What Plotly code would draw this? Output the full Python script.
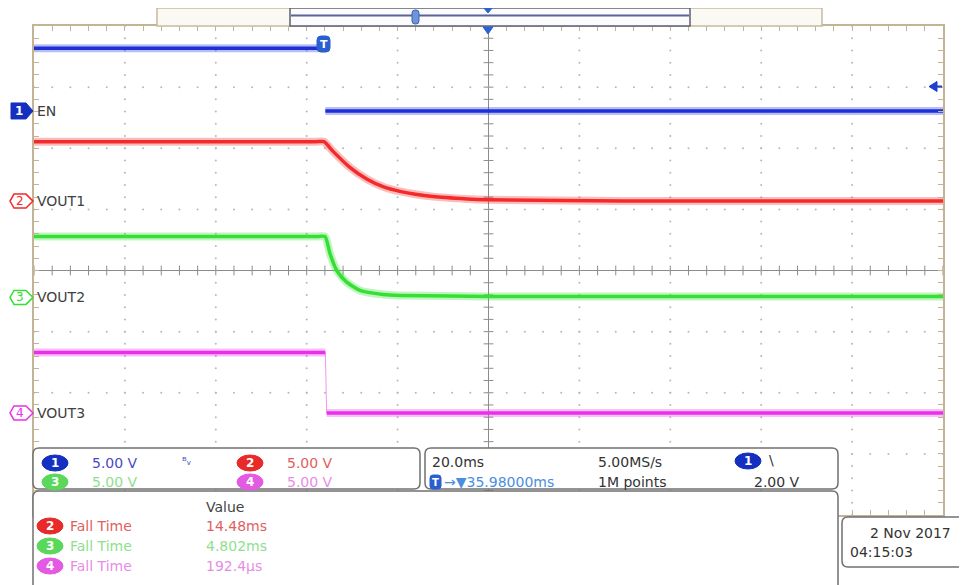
import plotly.graph_objects as go

# ---------------- data (time in ms relative to screen centre, volts) ----------------
en_time_ms = [-100.0, -36.0, -35.9, 100.0]
en_volts = [5.14, 5.14, 0.0, 0.0]

vout1_time_ms = [-100.0, -60.0, -38.0, -36.2, -34.2, -30.5, -26.8, -23.2, -19.5, -12.2, -4.7, -0.3, 30.0, 100.0]
vout1_volts = [4.86, 4.86, 4.86, 4.86, 4.07, 2.76, 1.81, 1.18, 0.80, 0.37, 0.18, 0.12, 0.02, 0.0]

vout2_time_ms = [-100.0, -60.0, -37.5, -35.97, -34.87, -33.4, -31.2, -28.3, -23.2, -19.5, 0.0, 100.0]
vout2_volts = [4.98, 4.98, 4.98, 4.98, 3.57, 2.20, 1.25, 0.57, 0.24, 0.16, 0.08, 0.08]

vout3_time_ms = [-100.0, -35.9, -35.6, 100.0]
vout3_volts = [4.94, 4.94, 0.0, 0.0]

channel_names = ["EN", "VOUT1", "VOUT2", "VOUT3"]
channel_numbers = ["1", "2", "3", "4"]
channel_scale_text = ["5.00 V", "5.00 V", "5.00 V", "5.00 V"]
volts_per_div = 5.0
channel_offset_div = [2.61, 1.135, -0.44, -2.33]

meas_names = ["Fall Time", "Fall Time", "Fall Time"]
meas_channels = ["2", "3", "4"]
meas_values = ["14.48ms", "4.802ms", "192.4µs"]

timebase_text = "20.0ms"
sample_rate_text = "5.00MS/s"
record_text = "1M points"
trigger_delay_text = "→▼35.98000ms"
trigger_level_text = "2.00 V"
trigger_level_volts = 2.0
date_text = "2 Nov 2017"
time_text = "04:15:03"

# ---------------- styling ----------------
COL = ["#1c2fd8", "#f42a2a", "#33e033", "#ea2fea"]
BADGE = ["#1530c0", "#e82a2a", "#5ad85a", "#e35ae3"]
TXT = ["#4a4ac4", "#e06060", "#8ee08e", "#e58ee5"]
FONT = "DejaVu Sans"

PAGE_OFF = 8  # default body margin of the html page
W, H = 967 - PAGE_OFF, 585 - PAGE_OFF
L, R, T, B = 34, 943, 26, 515  # plot frame in page pixels
PW, PH = R - L, B - T


def px(x):
    return (x - L) / PW


def py(y):
    return (B - y) / PH


fig = go.Figure()

# grid dots
gx, gy = [], []
for i in range(11):
    xv = -100 + 20 * i
    if xv in (-100, 0, 100):
        continue
    for j in range(41):
        gx.append(xv)
        gy.append(-4 + 0.2 * j)
for i in range(9):
    yv = -4 + i
    if yv in (-4, 0, 4):
        continue
    for j in range(51):
        gx.append(-100 + 4 * j)
        gy.append(yv)
fig.add_trace(go.Scatter(x=gx, y=gy, mode="markers", hoverinfo="skip",
                         marker=dict(size=2, color="#b8b8b8"), showlegend=False))

# centre cross ticks
cx = [-100 + 4 * j for j in range(51)]
fig.add_trace(go.Scatter(x=cx, y=[0] * len(cx), mode="markers", hoverinfo="skip", showlegend=False,
                         marker=dict(symbol="line-ns-open", size=7, color="#8c8c8c",
                                     line=dict(color="#8c8c8c", width=1))))
cy = [-4 + 0.2 * j for j in range(41)]
fig.add_trace(go.Scatter(x=[0] * len(cy), y=cy, mode="markers", hoverinfo="skip", showlegend=False,
                         marker=dict(symbol="line-ew-open", size=7, color="#8c8c8c",
                                     line=dict(color="#8c8c8c", width=1))))


def split_steps(t, v):
    """Break the thick line at near-vertical steps (the scope draws those thin)."""
    tt, vv = [t[0]], [v[0]]
    for i in range(1, len(t)):
        if abs(t[i] - t[i - 1]) < 0.5 and abs(v[i] - v[i - 1]) > 0.5:
            tt.append(None)
            vv.append(None)
        tt.append(t[i])
        vv.append(v[i])
    return tt, vv


series = [(en_time_ms, en_volts, "linear"), (vout1_time_ms, vout1_volts, "spline"),
          (vout2_time_ms, vout2_volts, "spline"), (vout3_time_ms, vout3_volts, "linear")]
for k, (t, v, shp) in enumerate(series):
    yfull = [channel_offset_div[k] + val / volts_per_div for val in v]
    if shp == "linear":
        if k == 3:
            fig.add_trace(go.Scatter(x=t, y=yfull, mode="lines", hoverinfo="skip", showlegend=False,
                                     line=dict(color=COL[k], width=1), opacity=0.5))
        ts, ys = split_steps(t, yfull)
    else:
        ts, ys = t, yfull
    fig.add_trace(go.Scatter(x=ts, y=ys, mode="lines", hoverinfo="skip", showlegend=False,
                             line=dict(color=COL[k], width=8, shape=shp, smoothing=0.6), opacity=0.3))
    fig.add_trace(go.Scatter(x=ts, y=ys, mode="lines", name=channel_names[k], showlegend=False,
                             line=dict(color=COL[k], width=3.5, shape=shp, smoothing=0.6)))

shapes = []
ann = []

# centre lines
shapes.append(dict(type="line", xref="x", yref="y", x0=0, x1=0, y0=-4, y1=4,
                   line=dict(color="#8c8c8c", width=1), layer="below"))
shapes.append(dict(type="line", xref="x", yref="y", x0=-100, x1=100, y0=0, y1=0,
                   line=dict(color="#8c8c8c", width=1), layer="below"))


def rrect(x0, y0, x1, y1, r, fill="white", line="#707070", lw=1.5):
    p = (f"M {px(x0 + r)},{py(y0)} L {px(x1 - r)},{py(y0)} Q {px(x1)},{py(y0)} {px(x1)},{py(y0 + r)} "
         f"L {px(x1)},{py(y1 - r)} Q {px(x1)},{py(y1)} {px(x1 - r)},{py(y1)} "
         f"L {px(x0 + r)},{py(y1)} Q {px(x0)},{py(y1)} {px(x0)},{py(y1 - r)} "
         f"L {px(x0)},{py(y0 + r)} Q {px(x0)},{py(y0)} {px(x0 + r)},{py(y0)} Z")
    return dict(type="path", xref="paper", yref="paper", path=p, fillcolor=fill,
                line=dict(color=line, width=lw), layer="above")


def poly(pts, fill, line=None, lw=1):
    p = "M " + " L ".join(f"{px(a)},{py(b)}" for a, b in pts) + " Z"
    return dict(type="path", xref="paper", yref="paper", path=p, fillcolor=fill,
                line=dict(color=line or fill, width=lw), layer="above")


def text(x, y, s, color="#333333", size=14, anchor="left", bold=False):
    ann.append(dict(xref="paper", yref="paper", x=px(x), y=py(y), text=("<b>%s</b>" % s) if bold else s,
                    showarrow=False, xanchor=anchor, yanchor="middle",
                    font=dict(family=FONT, size=size, color=color)))


def badge(xc, yc, num, color, w=26, h=16):
    shapes.append(dict(type="circle", xref="paper", yref="paper", x0=px(xc - w / 2), x1=px(xc + w / 2),
                       y0=py(yc + h / 2), y1=py(yc - h / 2), fillcolor=color,
                       line=dict(color=color, width=1), layer="above"))
    text(xc, yc, num, "white", 12, "center", True)


# top bar
shapes.append(dict(type="rect", xref="paper", yref="paper", x0=px(157), x1=px(822), y0=py(26), y1=py(8),
                   fillcolor="#fbf9f4", line=dict(color="#c9b99c", width=1.5), layer="above"))
shapes.append(dict(type="rect", xref="paper", yref="paper", x0=px(290), x1=px(690), y0=py(26), y1=py(8),
                   fillcolor="#fbfbfd", line=dict(color="#5f6070", width=1.5), layer="above"))
shapes.append(dict(type="line", xref="paper", yref="paper", x0=px(291), x1=px(689), y0=py(15.5), y1=py(15.5),
                   line=dict(color="#5a6496", width=2), layer="above"))
shapes.append(rrect(412, 10, 419, 24, 3, fill="#6f95d8", line="#3a64b8", lw=1))
shapes.append(poly([(483, 7), (493, 7), (488, 13)], "#2a62d0"))
shapes.append(poly([(483, 27), (493, 27), (488, 34)], "#2a62d0"))

# ground markers and labels
grid_y = [270.5 - channel_offset_div[k] * PH / 8 for k in range(4)]
for k in range(4):
    yc = grid_y[k]
    if k == 0:
        pts = [(11, yc - 8), (26, yc - 8), (33, yc), (26, yc + 8), (11, yc + 8)]
        shapes.append(poly(pts, BADGE[0], BADGE[0], 1))
        text(19, yc, channel_numbers[k], "white", 12, "center", True)
    else:
        pts = [(14, yc - 7), (26, yc - 7), (33, yc), (26, yc + 7), (14, yc + 7), (10, yc)]
        shapes.append(poly(pts, "white", COL[k], 1.5))
        text(20, yc, channel_numbers[k], COL[k], 12, "center")
    text(35, yc, channel_names[k], "#404040", 14)

# trigger marker on EN trace and trigger level arrow
shapes.append(rrect(317, 36, 330, 52, 4, fill="#2a5fd0", line="#2a5fd0", lw=1))
text(323.5, 44, "T", "white", 11, "center", True)
lvl_y = grid_y[0] - trigger_level_volts / volts_per_div * PH / 8
shapes.append(poly([(929, lvl_y), (937, lvl_y - 5), (937, lvl_y + 5)], "#1f3fd0"))
shapes.append(dict(type="line", xref="paper", yref="paper", x0=px(936), x1=px(942), y0=py(lvl_y), y1=py(lvl_y),
                   line=dict(color="#1f3fd0", width=2), layer="above"))

# bottom panels
shapes.append(rrect(33, 448, 420, 489, 6))
shapes.append(rrect(425, 448, 838, 489, 6))
shapes.append(rrect(33, 491, 838, 600, 6))
shapes.append(rrect(842, 517, 985, 567, 6))

# channel scale box
badge(55, 463, channel_numbers[0], BADGE[0])
text(90, 463, channel_scale_text[0], TXT[0], 14)
text(186, 461, "ᴮᵥ", TXT[0], 11, "center")
badge(250, 463, channel_numbers[1], BADGE[1])
text(285, 463, channel_scale_text[1], TXT[1], 14)
badge(55, 482, channel_numbers[2], BADGE[2])
text(90, 482, channel_scale_text[2], TXT[2], 14)
badge(250, 482, channel_numbers[3], BADGE[3])
text(285, 482, channel_scale_text[3], TXT[3], 14)

# timebase box
text(430, 462, timebase_text, "#333333", 14)
text(596, 462, sample_rate_text, "#333333", 14)
badge(748, 461, channel_numbers[0], BADGE[0])
text(771, 460, "\\", "#333333", 14, "center")
shapes.append(rrect(430, 475, 441, 489, 3, fill="#2a5fd0", line="#2a5fd0", lw=1))
text(435.5, 482, "T", "white", 10, "center", True)
text(442, 482, trigger_delay_text, "#4a8ee0", 14)
text(596, 482, record_text, "#333333", 14)
text(752, 482, trigger_level_text, "#333333", 14)

# measurement box
text(204, 507, "Value", "#444444", 14)
for i in range(3):
    yc = 526 + 20 * i
    ch = int(meas_channels[i]) - 1
    badge(50, yc, meas_channels[i], BADGE[ch])
    text(68, yc, meas_names[i], TXT[ch], 14)
    text(204, yc, meas_values[i], TXT[ch], 14)

# date box
text(868, 533, date_text, "#333333", 14)
text(848, 552, time_text, "#333333", 14)

fig.update_layout(
    width=W, height=H,
    margin=dict(l=L - PAGE_OFF, r=W - (R - PAGE_OFF), t=T - PAGE_OFF, b=H - (B - PAGE_OFF), pad=0),
    paper_bgcolor="white", plot_bgcolor="white",
    xaxis=dict(range=[-100, 100], showgrid=False, zeroline=False, showticklabels=False,
               showline=True, linecolor="#c4b496", linewidth=1.5, mirror="ticks",
               ticks="inside", tick0=0, dtick=4, ticklen=5, tickcolor="#c4b496", fixedrange=True),
    yaxis=dict(range=[-4, 4], showgrid=False, zeroline=False, showticklabels=False,
               showline=True, linecolor="#c4b496", linewidth=1.5, mirror="ticks",
               ticks="inside", tick0=0, dtick=0.2, ticklen=5, tickcolor="#c4b496", fixedrange=True),
    shapes=shapes, annotations=ann, showlegend=False,
)

fig.write_html("out.html")
